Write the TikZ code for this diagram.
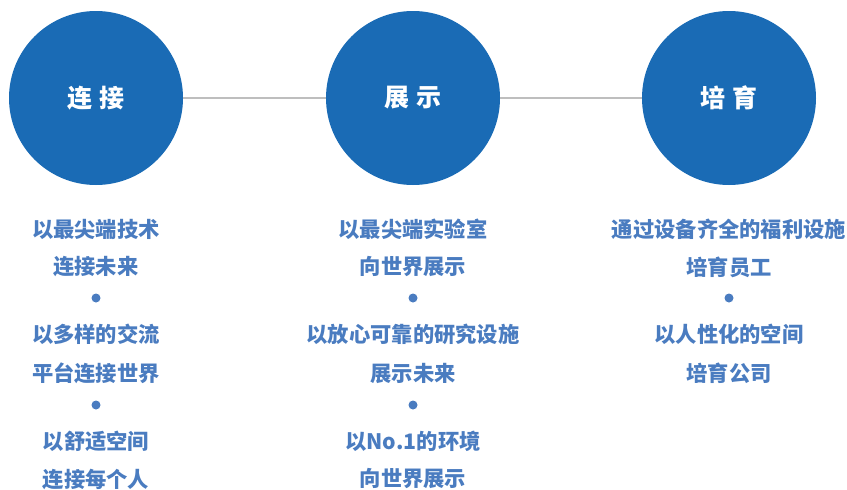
\documentclass[tikz,border=0pt]{standalone}
\usepackage{fontspec}
\newfontfamily\cjk{Noto Sans CJK SC}
\usetikzlibrary{positioning}
\definecolor{hubblue}{HTML}{1A6BB5}
\definecolor{txtblue}{HTML}{4A7CC0}
\definecolor{linegray}{HTML}{BEBEBE}

\begin{document}
\begin{tikzpicture}[x=1pt,y=-1pt,
    hub/.style={circle, fill=hubblue, minimum size=174pt, inner sep=0pt, text=white, font=\cjk\bfseries\fontsize{25}{30}\selectfont},
    line/.style={text=txtblue, inner sep=0pt, font=\cjk\bfseries\fontsize{21.3}{25}\selectfont},
    sep/.style={circle, fill=txtblue, minimum size=9pt, inner sep=0pt}]
    \useasboundingbox (0,0) rectangle (847,490);
    % circles
    \node[hub] (link) at (96,98) {连\hspace{7pt}接};
    \node[hub] (show) at (413,98) {展\hspace{7pt}示};
    \node[hub] (grow) at (729,98) {培\hspace{7pt}育};
    \draw[linegray, line width=2.2pt] (link.east) -- (show.west);
    \draw[linegray, line width=2.2pt] (show.east) -- (grow.west);
    % left column
    \node[line] (l1) at (96,229) {以最尖端技术};
    \node[line] (l2) at (96,267) {连接未来};
    \node[sep] (ld1) at (96,298) {};
    \node[line] (l3) at (96,334) {以多样的交流};
    \node[line] (l4) at (96,373) {平台连接世界};
    \node[sep] (ld2) at (96,405) {};
    \node[line] (l5) at (96,441) {以舒适空间};
    \node[line] (l6) at (96,479) {连接每个人};
    % middle column
    \node[line] (m1) at (413,229) {以最尖端实验室};
    \node[line] (m2) at (413,267) {向世界展示};
    \node[sep] (md1) at (413,298) {};
    \node[line] (m3) at (413,334) {以放心可靠的研究设施};
    \node[line] (m4) at (413,373) {展示未来};
    \node[sep] (md2) at (413,405) {};
    \node[line] (m5) at (413,441) {以No.1的环境};
    \node[line] (m6) at (413,479) {向世界展示};
    % right column
    \node[line] (r1) at (729,229) {通过设备齐全的福利设施};
    \node[line] (r2) at (729,267) {培育员工};
    \node[sep] (rd1) at (729,298) {};
    \node[line] (r3) at (729,334) {以人性化的空间};
    \node[line] (r4) at (729,373) {培育公司};
\end{tikzpicture}
\end{document}
